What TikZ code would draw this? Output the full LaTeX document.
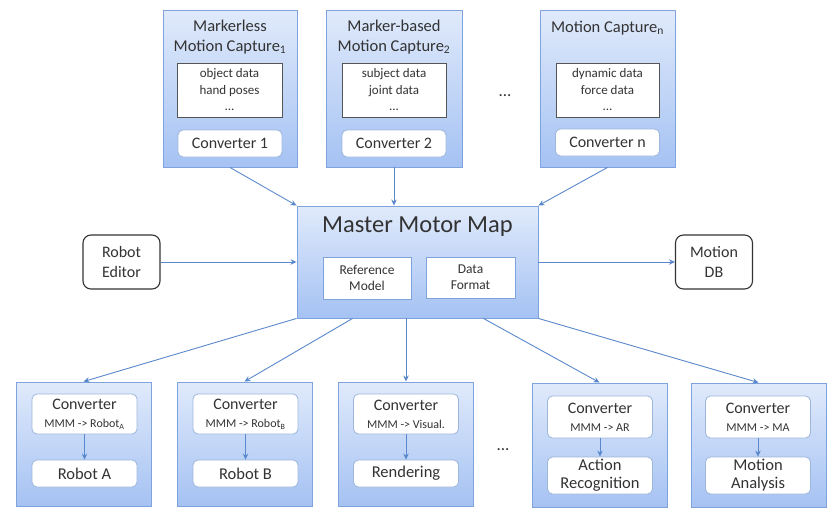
\documentclass[tikz,border=0pt]{standalone}
\usepackage{fontspec}
\setmainfont{Carlito}
\usetikzlibrary{arrows.meta}
\definecolor{boxtop}{HTML}{E0EAFB}
\definecolor{boxbot}{HTML}{A5C2F3}
\definecolor{boxline}{HTML}{7FA3DC}
\definecolor{arrowcol}{HTML}{5A88CC}
\definecolor{txt}{HTML}{333333}
\definecolor{convline}{HTML}{9DB6DA}
\definecolor{datline}{HTML}{555555}
\tikzset{
  bluebox/.style={draw=boxline, line width=0.9pt, top color=boxtop, bottom color=boxbot, inner sep=0pt},
  databox/.style={draw=datline, line width=0.8pt, fill=white, inner sep=0pt, text=txt, align=center,
    font=\fontsize{13}{16.5}\selectfont},
  convbox/.style={draw=convline, line width=0.8pt, fill=white, rounded corners=5pt, inner sep=0pt,
    text=txt, align=center},
  refbox/.style={draw=boxline, line width=0.8pt, fill=white, inner sep=0pt, text=txt, align=center,
    font=\fontsize{13.5}{16}\selectfont},
  sidebox/.style={draw=black!80, line width=1.1pt, fill=white, rounded corners=8pt, inner sep=0pt,
    text=txt, align=center, font=\fontsize{16}{20}\selectfont, minimum width=77pt, minimum height=54pt},
  title/.style={text=txt, align=center, inner sep=0pt, font=\fontsize{16.5}{20}\selectfont},
  conn/.style={draw=arrowcol, line width=0.9pt, -{Stealth[length=6pt,width=5.5pt]}},
  dotsnode/.style={text=txt, inner sep=0pt, font=\fontsize{17}{18}\selectfont}
}
\begin{document}
\begin{tikzpicture}[x=1pt,y=-1pt]
\useasboundingbox (0,0) rectangle (839,514);

% ---------- top capture boxes ----------
\node[bluebox, minimum width=134pt, minimum height=157pt] (t1) at (230,88.5) {};
\node[bluebox, minimum width=136pt, minimum height=157pt] (t2) at (394,88.5) {};
\node[bluebox, minimum width=135pt, minimum height=157pt] (t3) at (607.5,88.5) {};

\node[title] (t1t) at (230,37) {Markerless\\Motion Capture\textsubscript{1}};
\node[title] (t2t) at (394,37) {Marker-based\\Motion Capture\textsubscript{2}};
\node[title] (t3t) at (607.5,28) {Motion Capture\textsubscript{n}};

\node[databox, minimum width=105pt, minimum height=54pt] (d1) at (229.5,90) {object data\\hand poses\\...};
\node[databox, minimum width=104pt, minimum height=54pt] (d2) at (394,90) {subject data\\joint data\\...};
\node[databox, minimum width=103pt, minimum height=54pt] (d3) at (607.5,90) {dynamic data\\force data\\...};

\node[convbox, minimum width=104pt, minimum height=27pt, font=\fontsize{16}{18}\selectfont] (c1) at (230,143.5) {Converter 1};
\node[convbox, minimum width=104pt, minimum height=27pt, font=\fontsize{16}{18}\selectfont] (c2) at (394,143.5) {Converter 2};
\node[convbox, minimum width=104pt, minimum height=27pt, font=\fontsize{16}{18}\selectfont] (c3) at (607.5,142.5) {Converter n};

\node[dotsnode] (topdots) at (505,96) {...};

% ---------- Master Motor Map ----------
\node[bluebox, minimum width=241pt, minimum height=112pt] (mmm) at (417.5,262) {};
\node[text=txt, inner sep=0pt, font=\fontsize{24.5}{26}\selectfont] (mmmt) at (417.5,227) {Master Motor Map};
\node[refbox, minimum width=88pt, minimum height=42pt] (ref) at (367,278) {Reference\\Model};
\node[refbox, minimum width=89pt, minimum height=41pt] (fmt) at (470.5,277.5) {Data\\Format};

\node[sidebox] (red) at (121.5,262) {Robot\\Editor};
\node[sidebox] (db) at (714,262) {Motion\\DB};

% ---------- bottom boxes ----------
\foreach \n/\cx/\cy in {ba/83.5/444, bb/244.5/444, br/406/444, bar/599.5/445, bma/758.5/445}{
  \node[bluebox, minimum width=135pt, minimum height=124pt] (\n) at (\cx,\cy) {};
}
\tikzset{convb/.style={convbox, minimum width=105pt, minimum height=40pt, font=\fontsize{16}{18}\selectfont},
         outb/.style={convbox, minimum width=105pt, minimum height=27pt, font=\fontsize{16.5}{18}\selectfont}}
\node[convb] (ca) at (84.5,414) {Converter\\{\fontsize{12}{13}\selectfont MMM -> Robot\textsubscript{A}}};
\node[convb] (cb) at (245.5,414) {Converter\\{\fontsize{12}{13}\selectfont MMM -> Robot\textsubscript{B}}};
\node[convb] (cr) at (406,414) {Converter\\{\fontsize{12}{13}\selectfont MMM -> Visual.}};
\node[convb, minimum height=42pt] (car) at (600,417) {Converter\\{\fontsize{12}{13}\selectfont MMM -> AR}};
\node[convb, minimum height=42pt] (cma) at (758,417) {Converter\\{\fontsize{12}{13}\selectfont MMM -> MA}};

\node[outb] (oa) at (84.5,473.5) {Robot A};
\node[outb] (ob) at (245.5,473.5) {Robot B};
\node[outb] (or) at (406,473.5) {Rendering};
\node[outb, minimum height=37pt] (oar) at (600,475.5) {Action\\Recognition};
\node[outb, minimum height=37pt] (oma) at (758,475.5) {Motion\\Analysis};

\node[dotsnode] (botdots) at (503,450) {...};

% ---------- connectors ----------
\draw[conn] (t1.south) -- (mmm.north west);
\draw[conn] (t2.south) -- (t2.south |- mmm.north);
\draw[conn] (t3.south) -- (mmm.north east);
\draw[conn] (red.east) -- (mmm.west);
\draw[conn] (mmm.east) -- (db.west);

\draw[conn] (mmm.south west) -- (ba.north);
\draw[conn] ([xshift=56pt]mmm.south west) -- (bb.north);
\draw[conn] (mmm.south -| br.north) -- (br.north);
\draw[conn] ([xshift=-55pt]mmm.south east) -- (bar.north);
\draw[conn] (mmm.south east) -- (bma.north);

\draw[conn] (ca.south) -- (oa.north);
\draw[conn] (cb.south) -- (ob.north);
\draw[conn] (cr.south) -- (or.north);
\draw[conn] (car.south) -- (oar.north);
\draw[conn] (cma.south) -- (oma.north);
\end{tikzpicture}
\end{document}
